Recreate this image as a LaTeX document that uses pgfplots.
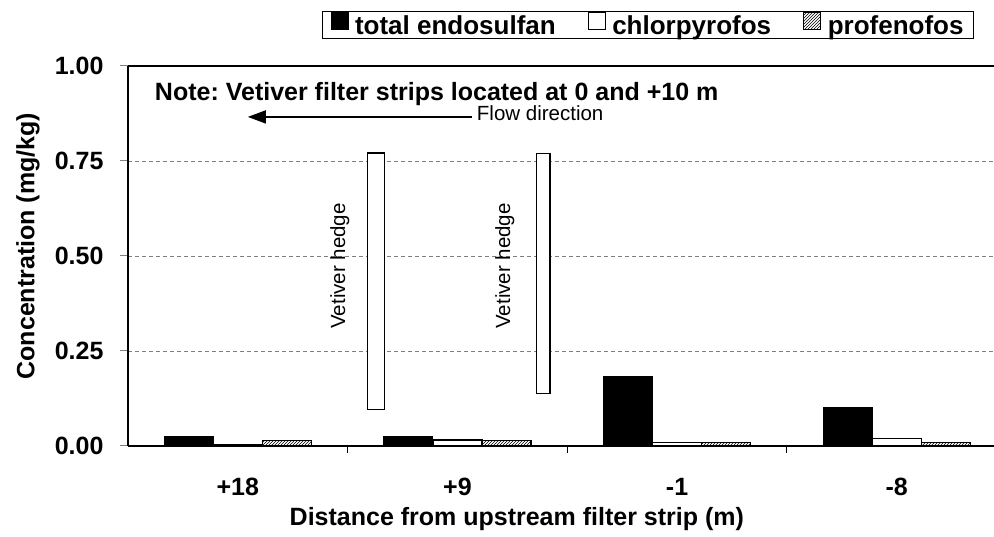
\documentclass[border=0pt]{standalone}
\usepackage{fontspec}
\setmainfont{Liberation Sans}
\usepackage{pgfplots}
\pgfplotsset{compat=1.18}
\usetikzlibrary{patterns,arrows.meta}
\frenchspacing
\newcommand{\bigbf}{\fontsize{25}{30}\selectfont\bfseries}
\newcommand{\legbf}{\fontsize{26}{30}\selectfont\bfseries}
\newcommand{\annot}{\fontsize{20.5}{24}\selectfont}
\pgfplotsset{
  sq legend/.style={legend image code/.code={\path[draw=none,fill=none] (0pt,0pt) rectangle (22pt,1pt);\draw[##1, line width=1pt] (0pt,-4pt) rectangle (17pt,13pt);}},
  hatch legend/.style={legend image code/.code={\path[draw=none,fill=none] (0pt,0pt) rectangle (22pt,1pt);\fill[pattern=north east lines] (0pt,-4pt) rectangle (17pt,13pt);}},
}
\begin{document}
\begin{tikzpicture}
\begin{axis}[
  at={(128pt,91pt)}, anchor=south west,
  scale only axis, width=866pt, height=380pt,
  xmin=-0.5, xmax=3.443, ymin=0, ymax=1,
  axis x line*=bottom, axis y line*=left,
  axis line style={line width=1.2pt, -},
  ybar=0pt, bar width=49pt,
  xtick={0,1,2,3}, xticklabels={+18,+9,-1,-8},
  xtick style={draw=none},
  extra x ticks={0.5,1.5,2.5}, extra x tick labels={},
  extra x tick style={xtick style={draw=black, line width=1pt}, tick align=outside, major tick length=7pt, grid=none},
  ytick={0,0.25,0.5,0.75,1}, yticklabels={0.00,0.25,0.50,0.75,1.00},
  ytick style={line width=1pt},
  tick align=outside, major tick length=8pt,
  ymajorgrids, grid style={gray, line width=0.7pt, dash pattern=on 4pt off 3pt},
  tick label style={font=\bigbf},
  xticklabel style={anchor=base, yshift=-42pt},
  yticklabel style={anchor=east, xshift=-13pt},
  xlabel={Distance from upstream filter strip (m)},
  ylabel={Concentration (mg/kg)},
  label style={font=\bigbf},
  xlabel style={at={(axis description cs:0.449,-0.208)}, anchor=base},
  ylabel style={at={(axis description cs:-0.1155,0.526)}, anchor=center},
  legend style={at={(0.6005,1.108)}, anchor=center, draw=black, line width=1pt,
    font=\legbf, nodes={inner sep=2pt}, inner xsep=8pt, inner ysep=1pt,
    /tikz/every even column/.append style={column sep=30pt}},
  legend columns=3, legend cell align=left,
]
\addplot[fill=black, draw=black, line width=1pt, sq legend] coordinates {(0,0.024) (1,0.024) (2,0.182) (3,0.100)};
\addplot[fill=white, draw=black, line width=1.2pt, sq legend] coordinates {(0,0.003) (1,0.016) (2,0.010) (3,0.019)};
\addplot[pattern=north east lines, draw=black, line width=1.2pt, hatch legend] coordinates {(0,0.015) (1,0.015) (2,0.010) (3,0.010)};
\legend{total endosulfan, chlorpyrofos, profenofos}
\draw[line width=1.2pt] (axis cs:-0.5,1) -- (axis cs:3.443,1);
\draw[line width=1.2pt, fill=white] (axis cs:0.592,0.095) rectangle (axis cs:0.669,0.771);
\draw[line width=1.2pt, fill=white] (axis cs:1.360,0.139) rectangle (axis cs:1.421,0.770);
\node[rotate=90, font=\annot] at (axis cs:0.464,0.474) {Vetiver hedge};
\node[rotate=90, font=\annot] at (axis cs:1.216,0.474) {Vetiver hedge};
\draw[-{Triangle[length=18pt,width=13pt]}, line width=1.5pt] (axis cs:1.066,0.866) -- (axis cs:0.0455,0.866);
\node[anchor=base west, font=\annot, inner sep=0pt] at (axis cs:1.088,0.856) {Flow direction};
\node[anchor=base west, font=\bigbf, inner sep=0pt] at (axis cs:-0.378,0.910) {Note: Vetiver filter strips located at 0 and +10 m};
\end{axis}
\pgfresetboundingbox
\path[use as bounding box] (0pt,0pt) rectangle (994pt,537pt);
\end{tikzpicture}
\end{document}
